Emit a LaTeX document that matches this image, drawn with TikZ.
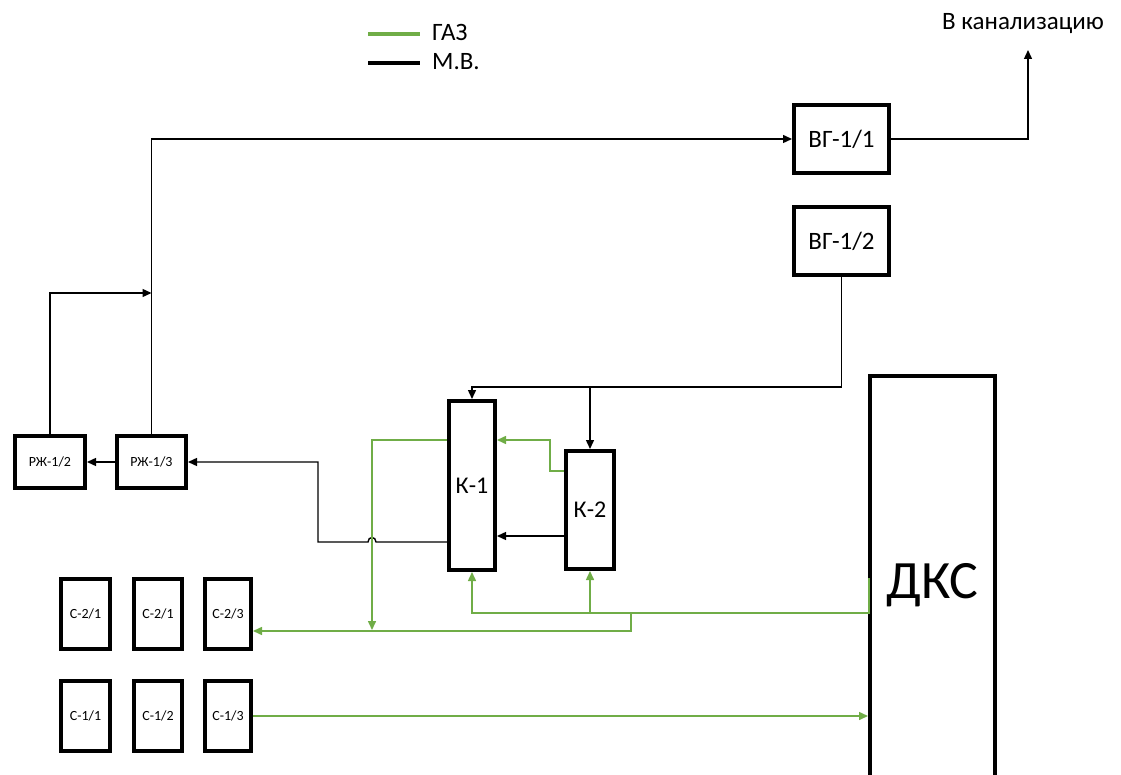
\documentclass[tikz,border=0pt]{standalone}
\usepackage{fontspec}
\setmainfont{Carlito}
\usetikzlibrary{arrows.meta,calc}
\definecolor{gasgreen}{RGB}{112,173,71}
\tikzset{
  box/.style={draw=black,line width=4pt,fill=white,inner sep=0pt,minimum width=#1},
  conn/.style={draw=black,line width=1.4pt},
  arr/.style={conn,-{Triangle[length=9pt,width=8pt]}},
  gconn/.style={draw=gasgreen,line width=1.5pt},
  garr/.style={gconn,-{Triangle[length=9pt,width=8pt]}},
}
\begin{document}
\begin{tikzpicture}[x=1pt,y=-1pt]
\useasboundingbox (0,0) rectangle (1121,775);
\clip (0,0) rectangle (1121,775);
% boxes
\node[box=95pt,minimum height=68pt,font=\fontsize{25}{28}\selectfont] (vg1) at (841.5,139) {ВГ-1/1};
\node[box=95pt,minimum height=68pt,font=\fontsize{25}{28}\selectfont] (vg2) at (841.5,241) {ВГ-1/2};
\node[box=46pt,minimum height=169pt,font=\fontsize{24}{28}\selectfont] (k1) at (472,485.5) {К-1};
\node[box=48pt,minimum height=118pt,font=\fontsize{24}{28}\selectfont] (k2) at (590,510) {К-2};
\node[box=125pt,minimum height=440pt,inner sep=0pt] (dks) at (932.5,596) {};
\node[font=\fontsize{54}{60}\selectfont] (dkst) at (932.5,585) {ДКС};
\node[box=70pt,minimum height=52pt,font=\fontsize{14}{16}\selectfont] (rzh2) at (50,462) {РЖ-1/2};
\node[box=69pt,minimum height=52pt,font=\fontsize{14}{16}\selectfont] (rzh3) at (151.5,462) {РЖ-1/3};
\node[box=49pt,minimum height=70pt,font=\fontsize{14}{16}\selectfont] (s21a) at (85.5,614) {С-2/1};
\node[box=48pt,minimum height=70pt,font=\fontsize{14}{16}\selectfont] (s21b) at (158,614) {С-2/1};
\node[box=46pt,minimum height=70pt,font=\fontsize{14}{16}\selectfont] (s23) at (228,614) {С-2/3};
\node[box=49pt,minimum height=70pt,font=\fontsize{14}{16}\selectfont] (s11) at (85.5,716) {С-1/1};
\node[box=48pt,minimum height=70pt,font=\fontsize{14}{16}\selectfont] (s12) at (158,716) {С-1/2};
\node[box=46pt,minimum height=70pt,font=\fontsize{14}{16}\selectfont] (s13) at (228,716) {С-1/3};
% legend
\coordinate (lg1) at (368,34); \coordinate (lg2) at (420,34);
\coordinate (lb1) at (368,63); \coordinate (lb2) at (420,63);
\draw[draw=gasgreen,line width=4pt] (lg1) -- (lg2);
\draw[draw=black,line width=4pt] (lb1) -- (lb2);
\node[anchor=base west,font=\fontsize{25}{28}\selectfont,inner sep=0pt] (lgt) at (432,41) {ГАЗ};
\node[anchor=base west,font=\fontsize{25}{28}\selectfont,inner sep=0pt] (lbt) at (432,70) {М.В.};
% sewer
\coordinate (sewer) at (1028,50);
\node[anchor=base,font=\fontsize{25}{28}\selectfont,inner sep=0pt] (sewt) at (1023,30) {В канализацию};
% coordinates
\coordinate (j1) at (151.5,293);
\coordinate (t1) at (472,387);
\coordinate (g1) at (550,471);
\coordinate (g2) at (550,440);
\coordinate (b1) at (530,536);
\coordinate (b2) at (318,542);
\coordinate (h1) at (376,542);
\coordinate (h2) at (368,542);
\coordinate (g3) at (372,440);
\coordinate (g4) at (372,630);
\coordinate (g5) at (869,578);
\coordinate (g6) at (869,613);
\coordinate (g7) at (631,613);
\coordinate (g8) at (631,631);
% black connectors
\draw[arr] (rzh3.north) |- (vg1.west);
\draw[arr] (rzh2.north) |- (j1);
\draw[arr] (rzh3.west) -- (rzh2.east);
\draw[arr] (vg1.east) -| (sewer);
\draw[arr] (vg2.south) |- (t1) -- (k1.north);
\draw[arr] (k2.north |- t1) -- (k2.north);
\draw[arr] (k2.west |- b1) -- (k1.east |- b1);
\draw[arr] (k1.west |- b2) -- (h1) .. controls ($(h1)+(0,-6)$) and ($(h2)+(0,-6)$) .. (h2) -- (b2) |- (rzh3.east);
% green connectors
\draw[garr] (k2.west |- g1) -- (g1) -- (g2) -- (k1.east |- g2);
\draw[garr] (k1.west |- g3) -- (g3) -- (g4);
\draw[garr] (g5) -- (g6) -| (k1.south);
\draw[garr] (k2.south |- g6) -- (k2.south);
\draw[garr] (g7) -- (g8) -- (s23.east |- g8);
\draw[garr] (s13.east) -- (dks.west |- s13.east);
\end{tikzpicture}
\end{document}
